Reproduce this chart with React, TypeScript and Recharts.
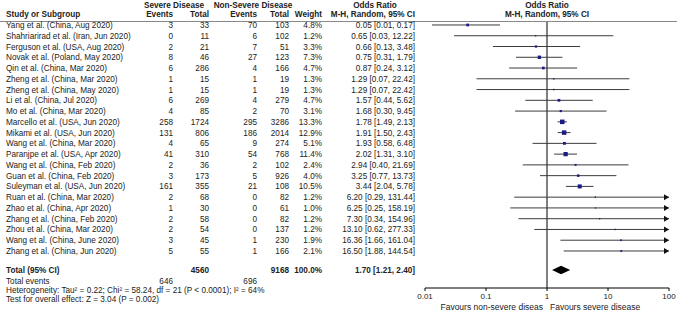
import React from 'react'
import { ScatterChart, Scatter, XAxis, YAxis, ReferenceLine, ReferenceDot, ReferenceArea } from 'recharts'

// study rows, top to bottom
const studies = [
  'Yang et al. (China, Aug 2020)',
  'Shahriarirad et al. (Iran, Jun 2020)',
  'Ferguson et al. (USA, Aug 2020)',
  'Novak et al. (Poland, May 2020)',
  'Qin et al. (China, Mar 2020)',
  'Zheng et al. (China, Mar 2020)',
  'Zheng et al. (China, May 2020)',
  'Li et al. (China, Jul 2020)',
  'Mo et al. (China, Mar 2020)',
  'Marcello et al. (USA, Jun 2020)',
  'Mikami et al. (USA, Jun 2020)',
  'Wang et al. (China, Mar 2020)',
  'Paranjpe et al. (USA, Apr 2020)',
  'Wang et al. (China, Feb 2020)',
  'Guan et al. (China, Feb 2020)',
  'Suleyman et al. (USA, Jun 2020)',
  'Ruan et al. (China, Mar 2020)',
  'Zhao et al. (China, Apr 2020)',
  'Zhang et al. (China, Feb 2020)',
  'Zhou et al. (China, Mar 2020)',
  'Wang et al. (China, June 2020)',
  'Zhang et al. (China, Jun 2020)',
]
const severeEvents = [3, 0, 2, 8, 6, 1, 1, 6, 4, 258, 131, 4, 41, 2, 3, 161, 2, 1, 2, 2, 3, 5]
const severeTotal = [33, 11, 21, 46, 286, 15, 15, 269, 85, 1724, 806, 65, 310, 36, 173, 355, 68, 30, 58, 54, 45, 55]
const nonSevereEvents = [70, 6, 7, 27, 4, 1, 1, 4, 2, 295, 186, 9, 54, 2, 5, 21, 0, 0, 0, 0, 1, 1]
const nonSevereTotal = [103, 102, 51, 123, 166, 19, 19, 279, 70, 3286, 2014, 274, 768, 102, 926, 108, 82, 61, 82, 137, 230, 166]
const weights = [4.8, 1.2, 3.3, 7.3, 4.7, 1.3, 1.3, 4.7, 3.1, 13.3, 12.9, 5.1, 11.4, 2.4, 4.0, 10.5, 1.2, 1.0, 1.2, 1.2, 1.9, 2.1]
const oddsRatio = [0.05, 0.65, 0.66, 0.75, 0.87, 1.29, 1.29, 1.57, 1.68, 1.78, 1.91, 1.93, 2.02, 2.94, 3.25, 3.44, 6.2, 6.25, 7.3, 13.1, 16.36, 16.5]
const ciLow = [0.013, 0.03, 0.13, 0.31, 0.24, 0.07, 0.07, 0.44, 0.3, 1.49, 1.5, 0.58, 1.31, 0.4, 0.77, 2.04, 0.29, 0.25, 0.34, 0.62, 1.66, 1.88]
const ciHigh = [0.17, 12.22, 3.48, 1.79, 3.12, 22.42, 22.42, 5.62, 9.45, 2.13, 2.43, 6.48, 3.1, 21.69, 13.73, 5.78, 131.44, 158.19, 154.96, 277.33, 161.04, 144.54]

const totals = { severeTotal: 4560, nonSevereTotal: 9168, severeEvents: 646, nonSevereEvents: 696 }
const pooled = { or: 1.7, lo: 1.21, hi: 2.4 }
const xTicks = [0.01, 0.1, 1, 10, 100]
const X_MAX = 100

const FONT = '"Liberation Sans", Arial, sans-serif'
const ROW0 = 25
const ROW_H = 10.76
const TOTAL_ROW = 22.77

const rows = studies.map((name, i) => ({ name, row: i, or: oddsRatio[i], weight: weights[i] }))

const fmt = (v: number) => v.toFixed(2)

const Square = (props: any) => {
  const { cx, cy, payload } = props
  if (cx == null || cy == null) return null
  const s = 1.25 * Math.sqrt(payload.weight)
  return <rect x={cx - s / 2} y={cy - s / 2} width={s} height={s} fill="#1c1c86" />
}

const Arrow = (props: any) => {
  const { cx, cy } = props
  return <polygon points={`${cx},${cy} ${cx - 5},${cy - 3} ${cx - 5},${cy + 3}`} fill="#111" />
}

const Diamond = (props: any) => {
  const { x, y, width, height } = props
  const f = (Math.log(pooled.or) - Math.log(pooled.lo)) / (Math.log(pooled.hi) - Math.log(pooled.lo))
  const mx = x + width * f
  const my = y + height / 2
  return <polygon points={`${x},${my} ${mx},${y} ${x + width},${my} ${mx},${y + height}`} fill="#000" />
}

const T = ({ x, y, anchor = 'start', bold = false, size = 8.2, children }: any) => (
  <text x={x} y={y + 3} textAnchor={anchor} fontWeight={bold ? 'bold' : 'normal'} fontSize={size} fill="#222" fontFamily={FONT}>
    {children}
  </text>
)

const COL = { sevEv: 173, sevTot: 209, nsEv: 257, nsTot: 289, weight: 322, or: 415 }

export default function App() {
  return (
    <div style={{ position: 'absolute', left: 0, top: 0, width: 677, height: 311, background: '#fff' }}>
      <ScatterChart width={677} height={311} margin={{ top: 21, right: 8, bottom: 0, left: 425 }}>
        <XAxis
          dataKey="or"
          type="number"
          scale="log"
          domain={[0.01, X_MAX]}
          ticks={xTicks}
          allowDataOverflow
          height={23}
          tickFormatter={(v) => String(v)}
          tick={{ fontSize: 8, fill: '#222', fontFamily: FONT }}
          tickSize={3}
          axisLine={{ stroke: '#000' }}
          tickLine={{ stroke: '#000' }}
        />
        <YAxis dataKey="row" type="number" domain={[-0.37, 24.44]} reversed hide allowDataOverflow />
        <ReferenceLine x={1} stroke="#000" strokeWidth={1} ifOverflow="visible" />
        {rows.map((r, i) => (
          <ReferenceLine
            key={'ci' + i}
            segment={[{ x: ciLow[i], y: i }, { x: Math.min(ciHigh[i], X_MAX), y: i }]}
            stroke="#3c3c3c"
            strokeWidth={1}
            ifOverflow="visible"
          />
        ))}
        {rows.map((r, i) =>
          ciHigh[i] > X_MAX ? (
            <ReferenceDot key={'ar' + i} x={X_MAX} y={i} ifOverflow="visible" shape={Arrow} />
          ) : null
        )}
        <Scatter data={rows} shape={Square} isAnimationActive={false} />
        <ReferenceArea
          x1={pooled.lo}
          x2={pooled.hi}
          y1={TOTAL_ROW - 0.4}
          y2={TOTAL_ROW + 0.4}
          ifOverflow="visible"
          shape={Diamond}
        />
      </ScatterChart>
      <svg width={677} height={311} style={{ position: 'absolute', left: 0, top: 0, pointerEvents: 'none' }}>
        <line x1={0} x2={677} y1={21.5} y2={21.5} stroke="#888" strokeWidth={1} />
        <T x={174} y={5} anchor="middle" bold>Severe Disease</T>
        <T x={253} y={5} anchor="middle" bold>Non-Severe Disease</T>
        <T x={375} y={5} anchor="middle" bold>Odds Ratio</T>
        <T x={547} y={5} anchor="middle" bold>Odds Ratio</T>
        <T x={6} y={14} bold>Study or Subgroup</T>
        <T x={COL.sevEv} y={14} anchor="end" bold>Events</T>
        <T x={COL.sevTot} y={14} anchor="end" bold>Total</T>
        <T x={COL.nsEv} y={14} anchor="end" bold>Events</T>
        <T x={COL.nsTot} y={14} anchor="end" bold>Total</T>
        <T x={COL.weight} y={14} anchor="end" bold>Weight</T>
        <T x={COL.or} y={14} anchor="end" bold>M-H, Random, 95% CI</T>
        <T x={547} y={14} anchor="middle" bold>M-H, Random, 95% CI</T>
        {rows.map((r, i) => {
          const y = ROW0 + i * ROW_H
          return (
            <g key={'t' + i}>
              <T x={6} y={y}>{r.name}</T>
              <T x={COL.sevEv} y={y} anchor="end">{severeEvents[i]}</T>
              <T x={COL.sevTot} y={y} anchor="end">{severeTotal[i]}</T>
              <T x={COL.nsEv} y={y} anchor="end">{nonSevereEvents[i]}</T>
              <T x={COL.nsTot} y={y} anchor="end">{nonSevereTotal[i]}</T>
              <T x={COL.weight} y={y} anchor="end">{weights[i].toFixed(1)}%</T>
              <T x={COL.or} y={y} anchor="end">{`${fmt(oddsRatio[i])} [${fmt(ciLow[i])}, ${fmt(ciHigh[i])}]`}</T>
            </g>
          )
        })}
        <T x={6} y={270} bold>Total (95% CI)</T>
        <T x={COL.sevTot} y={270} anchor="end" bold>{totals.severeTotal}</T>
        <T x={COL.nsTot} y={270} anchor="end" bold>{totals.nonSevereTotal}</T>
        <T x={COL.weight} y={270} anchor="end" bold>100.0%</T>
        <T x={COL.or} y={270} anchor="end" bold>{`${fmt(pooled.or)} [${fmt(pooled.lo)}, ${fmt(pooled.hi)}]`}</T>
        <T x={6} y={281}>Total events</T>
        <T x={COL.sevEv} y={281} anchor="end">{totals.severeEvents}</T>
        <T x={COL.nsEv} y={281} anchor="end">{totals.nonSevereEvents}</T>
        <T x={6} y={290}>Heterogeneity: Tau² = 0.22; Chi² = 58.24, df = 21 (P &lt; 0.0001); I² = 64%</T>
        <T x={6} y={299}>Test for overall effect: Z = 3.04 (P = 0.002)</T>
        <T x={543} y={307} anchor="end" size={8.5}>Favours non-severe diseas</T>
        <T x={550} y={307} size={8.5}>Favours severe disease</T>
      </svg>
    </div>
  )
}
